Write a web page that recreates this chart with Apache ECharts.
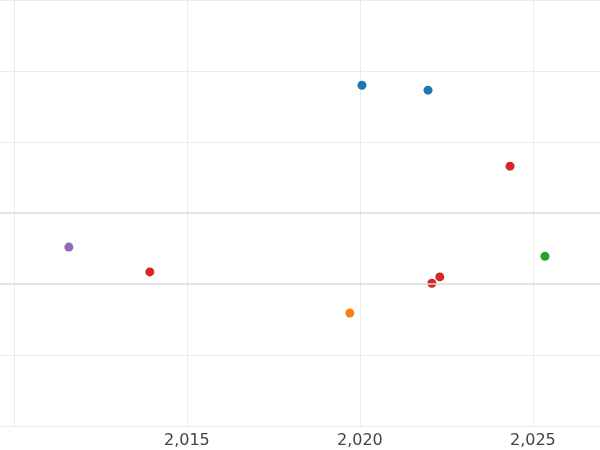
<!DOCTYPE html>
<html><head><meta charset="utf-8">
<script src="https://cdn.jsdelivr.net/npm/echarts@6/dist/echarts.min.js"></script>
<style>body{margin:0}#c{width:600px;height:450px}</style></head>
<body><div id="c"></div>
<script>
// points grouped by colour: [year, value]
const bluePts = [[2020.06, 4.80], [2021.97, 4.73]];
const redPts = [[2024.34, 3.66], [2013.93, 2.17], [2022.08, 2.01], [2022.31, 2.10]];
const purplePts = [[2011.59, 2.52]];
const greenPts = [[2025.35, 2.39]];
const orangePts = [[2019.71, 1.59]];
const tickYears = [2010, 2015, 2020, 2025];
const labelYears = [2015, 2020, 2025];

const mk = (data, color) => ({
  type: "scatter", data, symbolSize: 9,
  itemStyle: { color, opacity: 1 }
});

const chart = echarts.init(document.getElementById("c"));
chart.setOption({
  animation: false,
  grid: { left: 0, right: 0, top: 0, bottom: 24 },
  xAxis: {
    type: "value", min: 2009.6, max: 2026.94,
    axisLine: { show: false },
    axisTick: { show: false, customValues: tickYears },
    axisLabel: { customValues: labelYears, color: "#444", fontSize: 16, fontFamily: "DejaVu Sans", margin: 7 },
    splitLine: { lineStyle: { color: "#ebebeb" } }
  },
  yAxis: {
    type: "value", min: 0, max: 6, interval: 1,
    axisLine: { show: false }, axisTick: { show: false },
    axisLabel: { show: false },
    splitLine: { lineStyle: { color: "#ebebeb" } }
  },
  series: [
    mk(bluePts, "#1f77b4"),
    mk(redPts, "#d62728"),
    mk(purplePts, "#9467bd"),
    mk(greenPts, "#2ca02c"),
    mk(orangePts, "#ff7f0e"),
    { type: "line", data: [], markLine: { silent: true, symbol: "none", label: { show: false },
      lineStyle: { color: "#dcdcdc", type: "solid", width: 1.5 },
      data: [{ yAxis: 2 }, { yAxis: 3 }] } }
  ]
});
</script></body></html>
